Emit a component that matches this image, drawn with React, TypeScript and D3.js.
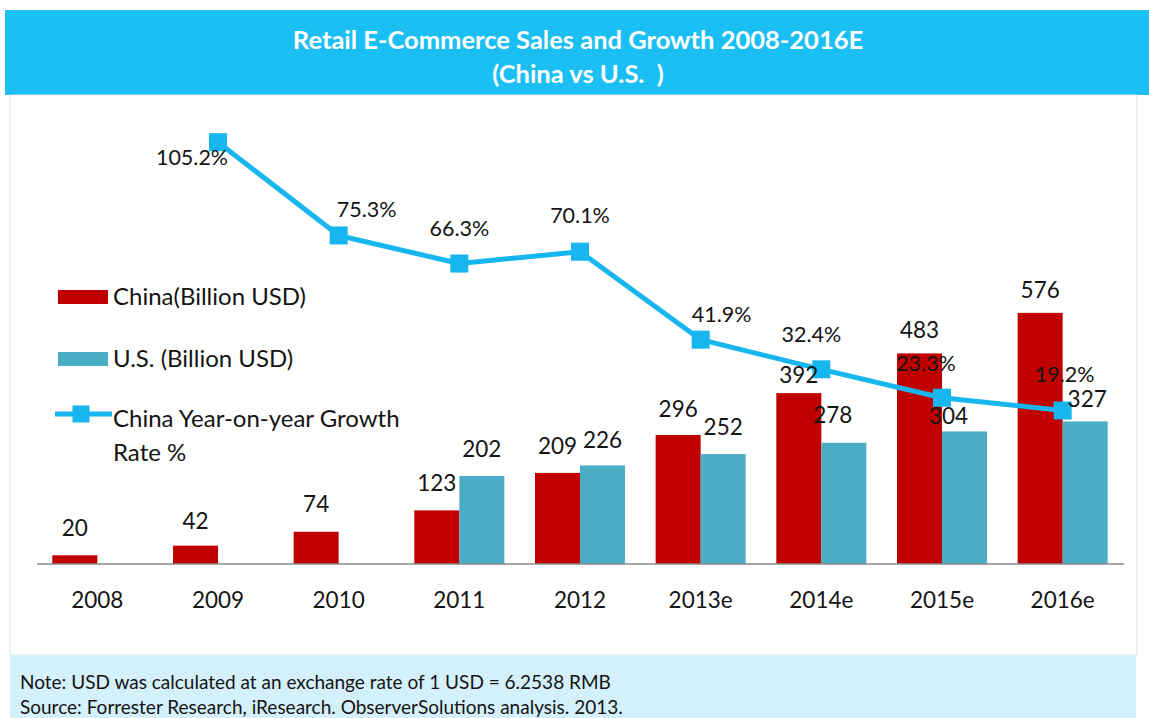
import React from "react";
import * as d3 from "d3";

const categories = ["2008", "2009", "2010", "2011", "2012", "2013e", "2014e", "2015e", "2016e"];
const chinaSales = [20, 42, 74, 123, 209, 296, 392, 483, 576];
const usSales: (number | null)[] = [null, null, null, 202, 226, 252, 278, 304, 327];
const chinaGrowth: (number | null)[] = [null, 105.2, 75.3, 66.3, 70.1, 41.9, 32.4, 23.3, 19.2];

const titleLines = ["Retail E-Commerce Sales and Growth 2008-2016E", "(China vs U.S.  )"];
const legendLabels = ["China(Billion USD)", "U.S. (Billion USD)", "China Year-on-year Growth", "Rate %"];
const noteLines = [
  "Note: USD was calculated at an exchange rate of 1 USD = 6.2538 RMB",
  "Source: Forrester Research, iResearch. ObserverSolutions analysis. 2013.",
];

// label placement nudges (layout only)
const growthNudge: [number, number][] = [
  [0, 0], [-26, 23], [28, -18], [0, -28], [0, -29], [21, -18], [-10, -27], [-16, -27], [2, -28],
];
const chinaNudge: [number, number][] = [
  [0, -19], [0, -17], [0, -20], [0, -19], [0, -19], [0, -18], [0, -10], [0, -15], [0, -15],
];
const usNudge: [number, number][] = [
  [0, 0], [0, 0], [0, 0], [0, -19], [0, -17], [0, -19], [-11, -20], [-16, -7], [2, -14],
];

const W = 1149;
const H = 718;
const FONT = "Lato, 'Open Sans', sans-serif";
const RED = "#c00000";
const TEAL = "#4bacc6";
const CYAN = "#17b6ef";
const TXT = "#141414";

export default function App() {
  const x0 = d3.scaleBand<string>().domain(categories).range([37, 1123]).paddingInner(0.254).paddingOuter(0.127);
  const x1 = d3.scaleBand<string>().domain(["china", "us"]).range([0, x0.bandwidth()]);
  const y = d3.scaleLinear().domain([0, 600]).range([564, 302.4]);
  const yg = d3.scaleLinear().domain([-30, 120]).range([564, 96]);

  const cx = (c: string) => (x0(c) as number) + x0.bandwidth() / 2;
  const growthPts = categories
    .map((c, i) => ({ c, i, v: chinaGrowth[i] }))
    .filter((d) => d.v !== null) as { c: string; i: number; v: number }[];
  const line = d3
    .line<{ c: string; v: number }>()
    .x((d) => cx(d.c))
    .y((d) => yg(d.v));

  const ms = 18;

  return (
    <div style={{ position: "absolute", left: 0, top: 0 }}>
      <svg width={W} height={H} style={{ display: "block", background: "#fff" }} fontFamily={FONT}>
        {/* title bar */}
        <rect x={5} y={10} width={W - 5} height={85} fill="#1cbff3" />
        {titleLines.map((t, i) => (
          <text
            key={t}
            x={578}
            y={49 + i * 34}
            textAnchor="middle"
            fill="#fff"
            fontWeight={700}
            fontSize={25.5}
            style={{ whiteSpace: "pre" }}
          >
            {t}
          </text>
        ))}
        {/* plot frame */}
        <rect x={10} y={95} width={1127} height={560} fill="#fff" stroke="#e4e4e4" strokeWidth={1} />
        {/* footer */}
        <rect x={10} y={655} width={1126} height={63} fill="#d4f0fb" />
        {noteLines.map((t, i) => (
          <text key={t} x={20} y={689 + i * 25} fill={TXT} fontSize={19}>
            {t}
          </text>
        ))}

        {/* bars */}
        {categories.map((c, i) => (
          <g key={c} transform={`translate(${x0(c)},0)`}>
            <rect
              x={x1("china")}
              y={y(chinaSales[i])}
              width={x1.bandwidth()}
              height={y(0) - y(chinaSales[i])}
              fill={RED}
            />
            {usSales[i] !== null && (
              <rect
                x={x1("us")}
                y={y(usSales[i] as number)}
                width={x1.bandwidth()}
                height={y(0) - y(usSales[i] as number)}
                fill={TEAL}
              />
            )}
          </g>
        ))}

        {/* axis */}
        <line x1={37} x2={1124} y1={y(0)} y2={y(0)} stroke="#8a8a8a" strokeWidth={1.5} />
        {categories.map((c) => (
          <text key={c} x={cx(c)} y={608} textAnchor="middle" fill={TXT} fontSize={22.5}>
            {c}
          </text>
        ))}

        {/* line */}
        <path d={line(growthPts) as string} fill="none" stroke={CYAN} strokeWidth={5} strokeLinejoin="round" />
        {growthPts.map((d) => (
          <rect key={d.c} x={cx(d.c) - ms / 2} y={yg(d.v) - ms / 2} width={ms} height={ms} fill={CYAN} />
        ))}

        {/* bar labels */}
        {categories.map((c, i) => (
          <text
            key={"cl" + c}
            x={(x0(c) as number) + (x1("china") as number) + x1.bandwidth() / 2 + chinaNudge[i][0]}
            y={y(chinaSales[i]) + chinaNudge[i][1]}
            textAnchor="middle"
            fill={TXT}
            fontSize={22.5}
          >
            {chinaSales[i]}
          </text>
        ))}
        {categories.map((c, i) =>
          usSales[i] === null ? null : (
            <text
              key={"ul" + c}
              x={(x0(c) as number) + (x1("us") as number) + x1.bandwidth() / 2 + usNudge[i][0]}
              y={y(usSales[i] as number) + usNudge[i][1]}
              textAnchor="middle"
              fill={TXT}
              fontSize={22.5}
            >
              {usSales[i]}
            </text>
          )
        )}
        {growthPts.map((d) => (
          <text
            key={"gl" + d.c}
            x={cx(d.c) + growthNudge[d.i][0]}
            y={yg(d.v) + growthNudge[d.i][1]}
            textAnchor="middle"
            fill={TXT}
            fontSize={21.5}
          >
            {d.v.toFixed(1) + "%"}
          </text>
        ))}

        {/* legend */}
        <rect x={58} y={290} width={50} height={14} fill={RED} />
        <text x={113} y={305} fill={TXT} fontSize={24}>{legendLabels[0]}</text>
        <rect x={58} y={352} width={50} height={14} fill={TEAL} />
        <text x={113} y={367} fill={TXT} fontSize={24}>{legendLabels[1]}</text>
        <line x1={55} x2={112} y1={414} y2={414} stroke={CYAN} strokeWidth={5} />
        <rect x={81 - 8.5} y={414 - 8.5} width={17} height={17} fill={CYAN} />
        <text x={113} y={427} fill={TXT} fontSize={24}>{legendLabels[2]}</text>
        <text x={113} y={461} fill={TXT} fontSize={24}>{legendLabels[3]}</text>
      </svg>
    </div>
  );
}
